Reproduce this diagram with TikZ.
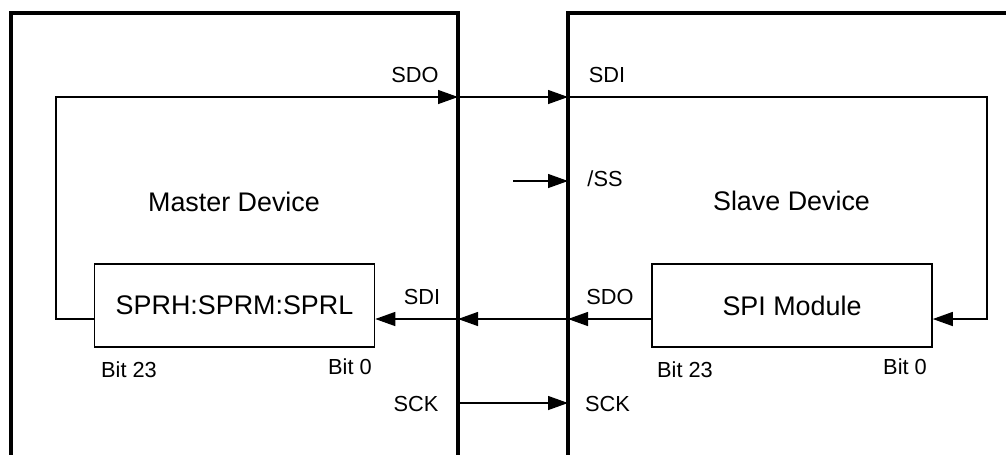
\documentclass[tikz,border=0pt]{standalone}
\usepackage{fontspec}
\setmainfont{Liberation Sans}
\usetikzlibrary{arrows.meta, positioning, calc}

\begin{document}
\begin{tikzpicture}[
  x=0.02cm, y=-0.02cm,
  frame/.style={line width=2.6pt, line join=miter},
  regbox/.style={draw, line width=0.9pt, minimum width=5.6cm, minimum height=1.66cm, inner sep=0pt, font=\fontsize{15.3}{18}\selectfont},
  title/.style={anchor=base, inner sep=0pt, font=\fontsize{15.3}{18}\selectfont},
  lbl/.style={anchor=base, inner sep=0pt, font=\fontsize{12.4}{15}\selectfont},
  sig/.style={line width=0.75pt},
  arrow/.style={sig, -{Triangle[length=0.4cm, width=0.28cm]}}
]
\useasboundingbox (0,0) rectangle (1006,454);

\node[regbox] (mreg) at (234.5,305.5) {SPRH:SPRM:SPRL};
\node[regbox] (sreg) at (792,305.5) {SPI Module};

\coordinate (mSDO) at (458,97);
\coordinate (sSDI) at (568,97);
\coordinate (sSS) at (568,181);
\coordinate (ssIn) at (513,181);
\coordinate (mSDI) at (458,319);
\coordinate (sSDO) at (568,319);
\coordinate (mSCK) at (458,403);
\coordinate (sSCK) at (568,403);
\coordinate (mloop) at (56,97);
\coordinate (sloop) at (987,97);
\coordinate (mregOut) at (mreg.west |- mSDI);
\coordinate (mregIn) at (mreg.east |- mSDI);
\coordinate (sregOut) at (sreg.west |- sSDO);
\coordinate (sregIn) at (sreg.east |- sSDO);

\draw[arrow] (mregOut) -| (mloop) -- (mSDO);
\draw[arrow] (mSDO) -- (sSDI);
\draw[arrow] (sSDI) -- (sloop) |- (sregIn);
\draw[arrow] (ssIn) -- (sSS);
\draw[arrow] (sregOut) -- (sSDO);
\draw[arrow] (sSDO) -- (mSDI);
\draw[arrow] (mSDI) -- (mregIn);
\draw[arrow] (mSCK) -- (sSCK);

\draw[frame] (11,460) |- (458,13) -- (458,460);
\draw[frame] (568,460) |- (1012,13);

\node[title] (mtitle) at (234,211) {Master Device};
\node[title] (stitle) at (791.5,210) {Slave Device};
\node[lbl] (sdoM) at (415,82) {SDO};
\node[lbl] (sdiS) at (607,82) {SDI};
\node[lbl] (ssS) at (605,186) {/SS};
\node[lbl] (sdiM) at (422,304) {SDI};
\node[lbl] (sdoS) at (610,304) {SDO};
\node[lbl] (sckM) at (416,411) {SCK};
\node[lbl] (sckS) at (607.5,411) {SCK};
\node[lbl] (m23) at (129,377) {Bit 23};
\node[lbl] (m0) at (350,374) {Bit 0};
\node[lbl] (s23) at (685,377) {Bit 23};
\node[lbl] (s0) at (905,374) {Bit 0};
\end{tikzpicture}
\end{document}
